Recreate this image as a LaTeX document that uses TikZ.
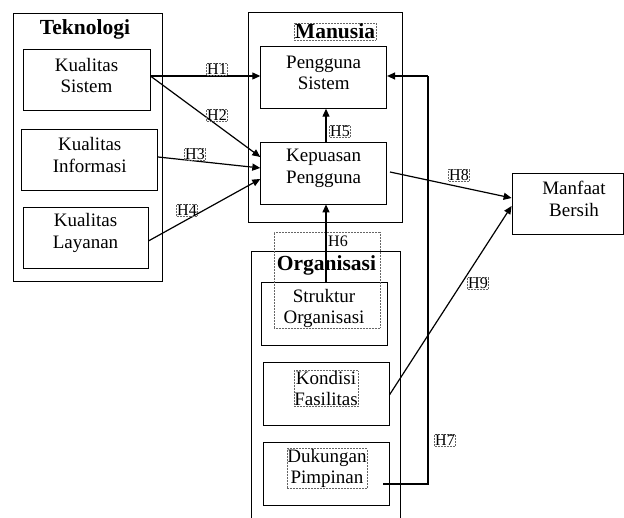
\documentclass[tikz,border=0pt]{standalone}
\usepackage{fontspec}
\setmainfont{Liberation Serif}
\usetikzlibrary{arrows.meta}
\begin{document}
\begin{tikzpicture}[x=1pt,y=-1pt,
  box/.style={draw,line width=0.8pt,inner sep=0pt},
  txt/.style={font=\fontsize{19}{21.5}\selectfont,align=center,inner sep=0.5pt},
  ttl/.style={font=\bfseries\fontsize{21.5}{24}\selectfont,inner sep=1pt},
  hl/.style={font=\fontsize{16}{18}\selectfont,inner sep=0.6pt},
  dotf/.style={draw=black!60,densely dotted,line width=0.5pt},
  arr/.style={line width=1.2pt,-{Triangle[length=8pt,width=7pt]}},
  ln/.style={line width=1.2pt}]
\useasboundingbox (0,0) rectangle (624,518);
% containers
\node[box,minimum width=149pt,minimum height=268pt] (tek) at (87.5,147) {};
\node[ttl] (tekt) at (85,29.5) {Teknologi};
\node[box,minimum width=154pt,minimum height=210pt] (man) at (325,117) {};
\node[ttl,dotf] (mant) at (335,31.5) {Manusia};
\draw[line width=0.8pt] (251,518) -- (251,251) -- (400,251) -- (400,518);
\node[ttl] (orgt) at (326.5,265) {Organisasi};
% boxes
\node[box,minimum width=127pt,minimum height=61pt] (ks) at (86.5,79.5) {};
\node[txt] (kst) at (86.5,75.5) {Kualitas\\Sistem};
\node[box,minimum width=136pt,minimum height=61pt] (ki) at (89.7,159.5) {};
\node[txt] (kit) at (89.7,155) {Kualitas\\Informasi};
\node[box,minimum width=125pt,minimum height=61pt] (kl) at (85.5,237.5) {};
\node[txt] (klt) at (85.5,233) {Kualitas\\Layanan};
\node[box,minimum width=126pt,minimum height=61.6pt] (ps) at (323.7,77.5) {};
\node[txt] (pst) at (323.7,73) {Pengguna\\Sistem};
\node[box,minimum width=126pt,minimum height=62pt] (kp) at (323.7,173) {};
\node[txt] (kpt) at (323.7,168.5) {Kepuasan\\Pengguna};
\node[box,minimum width=126pt,minimum height=63pt] (so) at (324,313.5) {};
\node[txt] (sot) at (324,308.5) {Struktur\\Organisasi};
\node[box,minimum width=126pt,minimum height=63pt] (kf) at (326,393.5) {};
\node[txt,dotf] (kft) at (326,388.5) {Kondisi\\Fasilitas};
\node[box,minimum width=126pt,minimum height=63pt] (dp) at (326,473.5) {};
\node[txt,dotf] (dpt) at (327,468.5) {Dukungan\\Pimpinan};
\node[box,minimum width=111pt,minimum height=61pt] (mb) at (567.5,203.5) {};
\node[txt] (mbt) at (574,199) {Manfaat\\Bersih};
% H6 text frame
\node[dotf,minimum width=106pt,minimum height=96pt,inner sep=0pt] (h6f) at (327,280) {};
% connectors
\draw[arr] (ks.east |- 0,76) -- (ps.west |- 0,76);
\draw[arr] (ks.east |- 0,76) -- (kp.west |- 0,157);
\draw[arr] (ki.east |- 0,157) -- (kp.west |- 0,168);
\draw[arr] (kl.east |- 0,241) -- (kp.west |- 0,179);
\draw[arr] (kp.north -| 326,0) -- (ps.south -| 326,0);
\draw[arr] (so.north -| 326,0) -- (kp.south -| 326,0);
\coordinate (c7s) at (383,484);
\coordinate (c7a) at (428,484);
\coordinate (c7b) at (428,76);
\draw[ln] (c7s) -- (c7a) -- (c7b);
\draw[arr] (c7b) -- (ps.east |- 0,76);
\coordinate (c8s) at (390,172);
\draw[arr] (c8s) -- (mb.west |- 0,198);
\draw[arr] (kf.east |- 0,395) -- (mb.west |- 0,206);
% labels
\node[hl,dotf] (h1) at (217,69) {H1};
\node[hl,dotf] (h2) at (217,115) {H2};
\node[hl,dotf] (h3) at (195,154) {H3};
\node[hl,dotf] (h4) at (187,210) {H4};
\node[hl,dotf] (h5) at (340,131) {H5};
\node[hl] (h6) at (338,241) {H6};
\node[hl,dotf] (h7) at (445,440) {H7};
\node[hl,dotf] (h8) at (459,175) {H8};
\node[hl,dotf] (h9) at (478,283) {H9};
\end{tikzpicture}
\end{document}
